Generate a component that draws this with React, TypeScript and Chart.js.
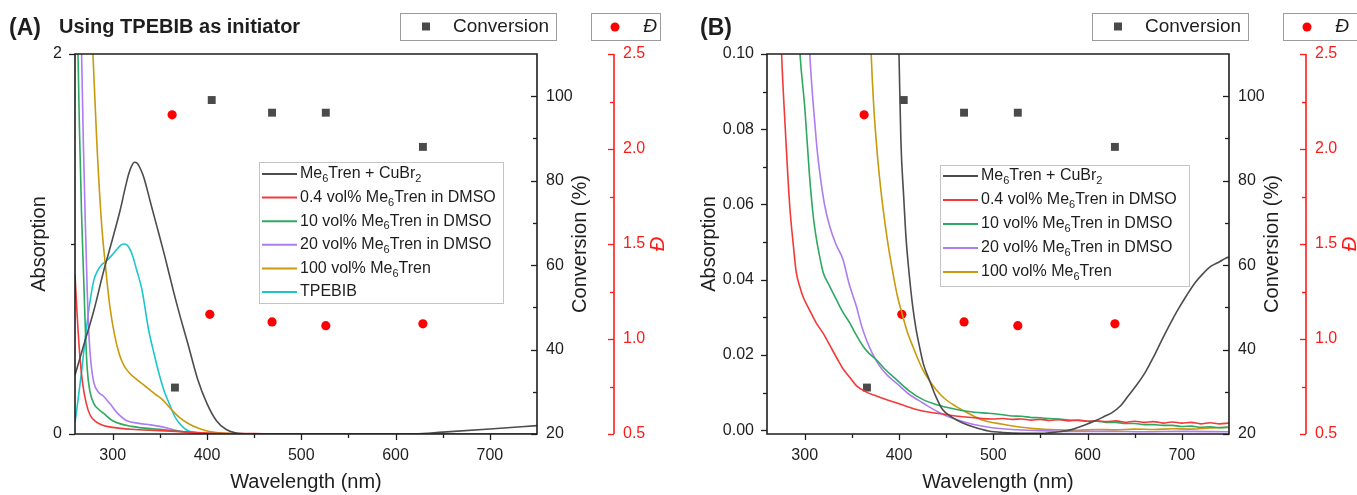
import React, { useEffect, useRef } from 'react';
import { Chart, registerables } from 'chart.js';
Chart.register(...registerables);

const FONT = "'Liberation Sans', Arial, Helvetica, sans-serif";

// ---------- shared labels / ticks ----------
const seriesLabels = [
  'Me₆Tren + CuBr₂',
  '0.4 vol% Me₆Tren in DMSO',
  '10 vol% Me₆Tren in DMSO',
  '20 vol% Me₆Tren in DMSO',
  '100 vol% Me₆Tren',
  'TPEBIB',
];
const seriesColors = ['#4d4d4d', '#f23a3a', '#2fa862', '#ad7cf0', '#c99a0c', '#1cc6cc'];

const xTickLabels = [300, 400, 500, 600, 700];
const xMinorTicks = [350, 450, 550, 650];
const yTicksA = [0, 2];
const yMinorA = [1];
const yTicksB = [0, 0.02, 0.04, 0.06, 0.08, 0.1];
const yMinorB = [0.01, 0.03, 0.05, 0.07, 0.09];
const convTicks = [20, 40, 60, 80, 100];
const convMinor = [30, 50, 70, 90];
const dispTicks = [0.5, 1.0, 1.5, 2.0, 2.5];
const dispMinor = [0.75, 1.25, 1.75, 2.25];

// ---------- conversion / dispersity points ----------
const convWl = [366, 405, 469, 526, 629];
const convVal = [31, 99.1, 96.1, 96.1, 88.0];
const dispWl = [363, 403, 469, 526, 629];
const dispVal = [2.18, 1.13, 1.09, 1.07, 1.08];

// ---------- panel A spectra ----------
const aCuWl = [260, 270, 280, 290, 300, 308, 313, 317, 320, 323, 326, 329, 333, 340, 347, 355, 365, 372, 380, 390, 400, 410, 420, 430, 445, 500, 600, 620, 650, 700, 750];
const aCuAbs = [0.31, 0.48, 0.65, 0.85, 1.03, 1.18, 1.29, 1.37, 1.41, 1.43, 1.425, 1.4, 1.35, 1.22, 1.09, 0.94, 0.74, 0.61, 0.47, 0.29, 0.16, 0.07, 0.025, 0.006, 0, 0, 0, 0.001, 0.01, 0.026, 0.044];
const aRedWl = [260, 262, 265, 268, 272, 276, 282, 290, 300, 320, 350, 380, 400, 450, 500, 750];
const aRedAbs = [0.84, 0.65, 0.42, 0.27, 0.16, 0.1, 0.065, 0.045, 0.035, 0.025, 0.018, 0.01, 0.005, 0.002, 0, 0];
const aGreenWl = [260, 263, 265, 267, 269, 271, 273, 276, 280, 285, 290, 300, 320, 350, 380, 400, 450, 750];
const aGreenAbs = [3.5, 2.05, 1.55, 1.15, 0.85, 0.55, 0.34, 0.22, 0.16, 0.13, 0.11, 0.07, 0.04, 0.025, 0.01, 0.004, 0, 0];
const aPurpleWl = [260, 267, 269, 271, 273, 275, 277, 280, 285, 290, 297, 305, 315, 328, 340, 350, 370, 390, 420, 750];
const aPurpleAbs = [3.5, 2.0, 1.5, 1.1, 0.75, 0.5, 0.37, 0.27, 0.22, 0.2, 0.16, 0.11, 0.07, 0.056, 0.048, 0.04, 0.016, 0.004, 0, 0];
const aGoldWl = [260, 270, 276, 279, 283, 288, 293, 297, 302, 307, 312, 318, 326, 335, 345, 353, 362, 370, 380, 391, 400, 410, 425, 450, 750];
const aGoldAbs = [6, 3.5, 2.4, 2.0, 1.55, 1.12, 0.85, 0.67, 0.52, 0.42, 0.36, 0.32, 0.285, 0.25, 0.21, 0.18, 0.13, 0.09, 0.055, 0.03, 0.016, 0.008, 0.003, 0, 0];
const aCyanWl = [260, 263, 267, 271, 276, 280, 284, 288, 293, 299, 305, 309, 312, 315, 318, 321, 325, 331, 338, 344, 349, 355, 360, 365, 370, 376, 381, 390, 400, 750];
const aCyanAbs = [0.06, 0.17, 0.33, 0.51, 0.7, 0.81, 0.86, 0.89, 0.91, 0.94, 0.975, 0.995, 1.0, 0.995, 0.975, 0.94, 0.87, 0.76, 0.55, 0.42, 0.32, 0.22, 0.16, 0.1, 0.06, 0.03, 0.015, 0.005, 0, 0];

// ---------- panel B spectra ----------
const bCuWl = [397, 400, 402, 405, 407.5, 411, 414.5, 418, 421.6, 426, 432, 439, 446, 456, 467, 480, 495, 510, 530, 550, 570, 585, 595, 608, 618, 626, 635, 643, 652, 661, 670, 679, 688, 696, 705, 714, 722, 731, 740, 747, 750];
const bCuAbs = [0.13, 0.1, 0.077, 0.062, 0.051, 0.041, 0.033, 0.027, 0.0224, 0.0175, 0.0135, 0.009, 0.0056, 0.0035, 0.002, 0.0008, -0.0002, -0.0006, -0.0008, -0.0008, -0.0004, 0.0003, 0.0012, 0.0025, 0.0037, 0.0047, 0.0065, 0.0091, 0.012, 0.0153, 0.0195, 0.0241, 0.0285, 0.0321, 0.0358, 0.0392, 0.0415, 0.0436, 0.0448, 0.0458, 0.046];
const bRedWl = [272, 275.5, 279, 284, 288, 291, 295, 298, 305, 312, 320, 327, 334, 341, 348, 355, 365, 376, 387, 397, 410, 425, 440, 460, 480, 500, 510, 520, 530, 540, 550, 560, 570, 580, 590, 600, 610, 620, 630, 640, 650, 660, 670, 680, 690, 700, 710, 720, 730, 740, 750];
const bRedAbs = [0.13, 0.1, 0.082, 0.06, 0.049, 0.042, 0.038, 0.0356, 0.032, 0.0286, 0.0256, 0.0224, 0.0192, 0.0162, 0.014, 0.0118, 0.0102, 0.0091, 0.0081, 0.0073, 0.0062, 0.0051, 0.0045, 0.0038, 0.0033, 0.003, 0.0031, 0.0029, 0.003, 0.0027, 0.0029, 0.0026, 0.0028, 0.0025, 0.0027, 0.0024, 0.0025, 0.0023, 0.0025, 0.0021, 0.0024, 0.0021, 0.0023, 0.0019, 0.0022, 0.0019, 0.0021, 0.0017, 0.002, 0.0017, 0.0019];
const bGreenWl = [292, 295, 300, 305, 309, 312.5, 316, 319.5, 326, 333.6, 340, 347.6, 354, 361.7, 368, 375.8, 386, 397, 410, 425, 440, 460, 480, 495, 510, 520, 530, 540, 550, 560, 570, 580, 590, 600, 610, 620, 630, 640, 650, 660, 670, 680, 690, 700, 710, 720, 730, 740, 750];
const bGreenAbs = [0.115, 0.1, 0.086, 0.068, 0.057, 0.0507, 0.046, 0.042, 0.0385, 0.0347, 0.0316, 0.0286, 0.0256, 0.0224, 0.0205, 0.0188, 0.016, 0.0135, 0.0106, 0.0082, 0.0068, 0.0056, 0.0048, 0.0045, 0.0041, 0.0038, 0.0037, 0.0034, 0.0033, 0.0031, 0.003, 0.0027, 0.0026, 0.0024, 0.0024, 0.0021, 0.0021, 0.0018, 0.0018, 0.0015, 0.0015, 0.0013, 0.0013, 0.001, 0.0011, 0.0008, 0.0009, 0.0007, 0.0008];
const bPurpleWl = [303, 305.4, 308, 310.7, 313, 316, 321, 326.5, 333, 340.6, 347, 354.7, 360, 365.3, 372, 379.3, 388, 397, 410, 425, 442, 460, 478, 495.5, 520, 550, 580, 620, 660, 700, 750];
const bPurpleAbs = [0.115, 0.1, 0.09, 0.0817, 0.075, 0.0684, 0.06, 0.0542, 0.0495, 0.0454, 0.039, 0.033, 0.028, 0.0241, 0.0203, 0.0171, 0.0145, 0.0126, 0.0097, 0.0073, 0.0048, 0.0029, 0.0016, 0.0008, 0.0002, -0.0001, -0.0003, -0.0003, -0.0004, -0.0003, -0.0004];
const bGoldWl = [368, 370.5, 373, 375.8, 379, 382.8, 388, 393.4, 398, 404, 409, 414.5, 420, 425, 432, 439, 448, 460, 475, 490, 510, 530, 550, 570, 590, 610, 630, 650, 670, 690, 710, 730, 750];
const bGoldAbs = [0.12, 0.1, 0.087, 0.077, 0.068, 0.0595, 0.05, 0.042, 0.036, 0.0303, 0.026, 0.0224, 0.019, 0.0162, 0.0133, 0.0109, 0.0085, 0.0064, 0.0043, 0.0026, 0.0016, 0.0008, 0.0003, 0.0001, 0, 0.0002, 0.0001, 0.0003, 0.0002, 0.0004, 0.0003, 0.0006, 0.0008];

const panelASeries = [
  [aCuWl, aCuAbs], [aRedWl, aRedAbs], [aGreenWl, aGreenAbs],
  [aPurpleWl, aPurpleAbs], [aGoldWl, aGoldAbs], [aCyanWl, aCyanAbs],
];
const panelBSeries = [
  [bCuWl, bCuAbs], [bRedWl, bRedAbs], [bGreenWl, bGreenAbs],
  [bPurpleWl, bPurpleAbs], [bGoldWl, bGoldAbs],
];

const SUB = '₀₁₂₃₄₅₆₇₈₉';
function drawRich(ctx: CanvasRenderingContext2D, text: string, x: number, y: number, size: number) {
  let cx = x;
  let buf = '';
  const flush = () => {
    if (!buf) return;
    ctx.font = `${size}px ${FONT}`;
    ctx.fillText(buf, cx, y);
    cx += ctx.measureText(buf).width;
    buf = '';
  };
  for (const ch of text) {
    const i = SUB.indexOf(ch);
    if (i >= 0) {
      flush();
      ctx.font = `${Math.round(size * 0.68)}px ${FONT}`;
      ctx.fillText(String(i), cx, y + size * 0.32);
      cx += ctx.measureText(String(i)).width;
    } else buf += ch;
  }
  flush();
}

interface PanelCfg {
  tag: string;
  tagX: number;
  subtitle?: string;
  yTitleX: number;
  dispBoxW: number;
  legend: { x: number; y: number; w: number; h: number; row0: number; gap: number };
  yMajor: number[];
  yMinor: number[];
  nSeries: number;
}

function makePlugin(cfg: PanelCfg) {
  return {
    id: 'panelDecor' + cfg.tag,
    afterDraw(chart: any) {
      const { ctx, chartArea: ca, scales } = chart;
      const xs = scales.x, ys = scales.y, y1 = scales.y1, y2 = scales.y2;
      const black = '#1e1e1e';
      const red = '#ff1a1a';
      ctx.save();
      // frame
      ctx.strokeStyle = black;
      ctx.lineWidth = 1.6;
      ctx.beginPath();
      ctx.rect(ca.left, ca.top, ca.right - ca.left, ca.bottom - ca.top);
      ctx.stroke();
      ctx.lineWidth = 1.3;
      const hTick = (vals: number[], len: number) => {
        vals.forEach((v) => {
          const p = Math.round(xs.getPixelForValue(v)) + 0.5;
          ctx.beginPath(); ctx.moveTo(p, ca.bottom); ctx.lineTo(p, ca.bottom + len); ctx.stroke();
        });
      };
      const vTick = (scale: any, vals: number[], x0: number, len: number) => {
        vals.forEach((v) => {
          const p = Math.round(scale.getPixelForValue(v)) + 0.5;
          ctx.beginPath(); ctx.moveTo(x0, p); ctx.lineTo(x0 + len, p); ctx.stroke();
        });
      };
      hTick(xTickLabels, 6);
      hTick(xMinorTicks, 4);
      vTick(ys, cfg.yMajor, ca.left, -6);
      vTick(ys, cfg.yMinor, ca.left, -4);
      vTick(y1, convTicks, ca.right, -6);
      vTick(y1, convMinor, ca.right, -4);
      // red axis
      ctx.strokeStyle = red;
      ctx.lineWidth = 1.6;
      const rx = y2.left;
      ctx.beginPath(); ctx.moveTo(rx, ca.top); ctx.lineTo(rx, ca.bottom); ctx.stroke();
      ctx.lineWidth = 1.3;
      vTick(y2, dispTicks, rx, -6);
      vTick(y2, dispMinor, rx, -4);

      // axis titles
      ctx.fillStyle = black;
      ctx.textAlign = 'center';
      ctx.textBaseline = 'middle';
      ctx.font = `20px ${FONT}`;
      ctx.fillText('Wavelength (nm)', (ca.left + ca.right) / 2, 482);
      const midY = (ca.top + ca.bottom) / 2;
      const rot = (txt: string, x: number, font: string, color: string) => {
        ctx.save();
        ctx.translate(x, midY);
        ctx.rotate(-Math.PI / 2);
        ctx.font = font;
        ctx.fillStyle = color;
        ctx.fillText(txt, 0, 0);
        ctx.restore();
      };
      rot('Absorption', cfg.yTitleX, `20px ${FONT}`, black);
      rot('Conversion (%)', ca.right + 43, `20px ${FONT}`, black);
      rot('Đ', rx + 44, `italic 20px ${FONT}`, red);

      // panel tag and subtitle
      ctx.textAlign = 'left';
      ctx.textBaseline = 'alphabetic';
      ctx.fillStyle = black;
      ctx.font = `bold 23px ${FONT}`;
      ctx.fillText(cfg.tag, cfg.tagX, 35);
      if (cfg.subtitle) {
        ctx.font = `bold 20px ${FONT}`;
        ctx.fillText(cfg.subtitle, 59, 33);
      }

      // top legend boxes
      ctx.lineWidth = 1;
      ctx.strokeStyle = '#9c9c9c';
      ctx.fillStyle = '#ffffff';
      ctx.fillRect(400, 13, 156, 27);
      ctx.strokeRect(400.5, 13.5, 156, 27);
      ctx.fillRect(591, 13, cfg.dispBoxW, 27);
      ctx.strokeRect(591.5, 13.5, cfg.dispBoxW, 27);
      ctx.fillStyle = '#4a4a4a';
      ctx.fillRect(422, 22.5, 8, 8);
      ctx.fillStyle = black;
      ctx.textBaseline = 'middle';
      ctx.font = `19px ${FONT}`;
      ctx.fillText('Conversion', 453, 27);
      ctx.fillStyle = '#ff0000';
      ctx.beginPath(); ctx.arc(615, 27, 4.5, 0, Math.PI * 2); ctx.fill();
      ctx.fillStyle = black;
      ctx.textAlign = 'center';
      ctx.font = `italic 19px ${FONT}`;
      ctx.fillText('Đ', 650, 27);

      // inner legend
      const lg = cfg.legend;
      ctx.fillStyle = '#ffffff';
      ctx.fillRect(lg.x, lg.y, lg.w, lg.h);
      ctx.strokeStyle = '#c4c4c4';
      ctx.strokeRect(lg.x + 0.5, lg.y + 0.5, lg.w, lg.h);
      ctx.textAlign = 'left';
      ctx.textBaseline = 'middle';
      for (let i = 0; i < cfg.nSeries; i++) {
        const ry = lg.row0 + i * lg.gap;
        ctx.strokeStyle = seriesColors[i];
        ctx.lineWidth = 2;
        ctx.beginPath(); ctx.moveTo(lg.x + 3, ry); ctx.lineTo(lg.x + 38, ry); ctx.stroke();
        ctx.fillStyle = black;
        drawRich(ctx, seriesLabels[i], lg.x + 41, ry, 16);
      }
      ctx.restore();
    },
  };
}

function buildConfig(series: number[][][], cfg: PanelCfg, yMin: number, yMax: number, y2Width: number, yFmt: (v: number) => string) {
  const lineSets = series.map(([wl, ab], i) => ({
    label: seriesLabels[i],
    data: wl.map((w, j) => ({ x: w, y: ab[j] })),
    borderColor: seriesColors[i],
    backgroundColor: seriesColors[i],
    borderWidth: 1.6,
    pointRadius: 0,
    cubicInterpolationMode: 'monotone' as const,
    yAxisID: 'y',
  }));
  const convSet = {
    label: 'Conversion',
    data: convWl.map((w, j) => ({ x: w, y: convVal[j] })),
    showLine: false,
    pointStyle: 'rect',
    pointRadius: 5.6,
    pointBackgroundColor: '#4a4a4a',
    pointBorderWidth: 0,
    borderColor: '#4a4a4a',
    yAxisID: 'y1',
  };
  const dispSet = {
    label: 'Đ',
    data: dispWl.map((w, j) => ({ x: w, y: dispVal[j] })),
    showLine: false,
    pointStyle: 'circle',
    pointRadius: 4.6,
    pointBackgroundColor: '#ff0000',
    pointBorderWidth: 0,
    borderColor: '#ff0000',
    yAxisID: 'y2',
  };
  const tickFont = { size: 16, family: FONT };
  const noGrid = { display: false, drawTicks: false };
  return {
    type: 'line' as const,
    data: { datasets: [...lineSets, convSet, dispSet] },
    options: {
      animation: false,
      responsive: false,
      devicePixelRatio: 1,
      layout: { padding: { top: 54, left: 0, right: 0, bottom: 0 } },
      plugins: { legend: { display: false }, tooltip: { enabled: false } },
      scales: {
        x: {
          type: 'linear', position: 'bottom', min: 260, max: 750,
          grid: noGrid, border: { display: false },
          afterBuildTicks: (s: any) => { s.ticks = xTickLabels.map((v) => ({ value: v })); },
          afterFit: (s: any) => { s.height = 61; },
          ticks: { font: tickFont, color: '#1e1e1e', padding: 12, maxRotation: 0, autoSkip: false, callback: (v: any) => String(v) },
        },
        y: {
          type: 'linear', position: 'left', min: yMin, max: yMax,
          grid: noGrid, border: { display: false },
          afterBuildTicks: (s: any) => { s.ticks = cfg.yMajor.map((v) => ({ value: v })); },
          afterFit: (s: any) => { s.width = 75; },
          ticks: { font: tickFont, color: '#1e1e1e', padding: 13, callback: (v: any) => yFmt(Number(v)) },
        },
        y1: {
          type: 'linear', position: 'right', min: 20, max: 110, weight: 1,
          grid: noGrid, border: { display: false },
          afterBuildTicks: (s: any) => { s.ticks = convTicks.map((v) => ({ value: v })); },
          afterFit: (s: any) => { s.width = 77; },
          ticks: { font: tickFont, color: '#1e1e1e', padding: 9, callback: (v: any) => String(v) },
        },
        y2: {
          type: 'linear', position: 'right', min: 0.5, max: 2.5, weight: 2,
          grid: noGrid, border: { display: false },
          afterBuildTicks: (s: any) => { s.ticks = dispTicks.map((v) => ({ value: v })); },
          afterFit: (s: any) => { s.width = y2Width; },
          ticks: { font: tickFont, color: '#ff1a1a', padding: 9, callback: (v: any) => Number(v).toFixed(1) },
        },
      },
    },
    plugins: [makePlugin(cfg)],
  };
}

const cfgA: PanelCfg = {
  tag: '(A)', tagX: 9, subtitle: 'Using TPEBIB as initiator', yTitleX: 39, dispBoxW: 69,
  legend: { x: 259, y: 162, w: 244, h: 141, row0: 174, gap: 23.6 },
  yMajor: yTicksA, yMinor: yMinorA, nSeries: 6,
};
const cfgB: PanelCfg = {
  tag: '(B)', tagX: 8, yTitleX: 17, dispBoxW: 90,
  legend: { x: 248, y: 165, w: 249, h: 121, row0: 176, gap: 24 },
  yMajor: yTicksB, yMinor: yMinorB, nSeries: 5,
};

export default function App() {
  const refA = useRef<HTMLCanvasElement>(null);
  const refB = useRef<HTMLCanvasElement>(null);
  useEffect(() => {
    const ca = new Chart(refA.current as HTMLCanvasElement, buildConfig(panelASeries, cfgA, 0, 2, 78, (v) => String(v)) as any);
    const cb = new Chart(refB.current as HTMLCanvasElement, buildConfig(panelBSeries, cfgB, -0.001, 0.1, 51, (v) => v.toFixed(2)) as any);
    return () => { ca.destroy(); cb.destroy(); };
  }, []);
  return (
    <div style={{ position: 'absolute', left: 0, top: 0, width: 1357, height: 495, background: '#fff', overflow: 'hidden' }}>
      <canvas ref={refA} width={692} height={495} style={{ position: 'absolute', left: 0, top: 0, width: 692, height: 495 }} />
      <canvas ref={refB} width={665} height={495} style={{ position: 'absolute', left: 692, top: 0, width: 665, height: 495 }} />
    </div>
  );
}
